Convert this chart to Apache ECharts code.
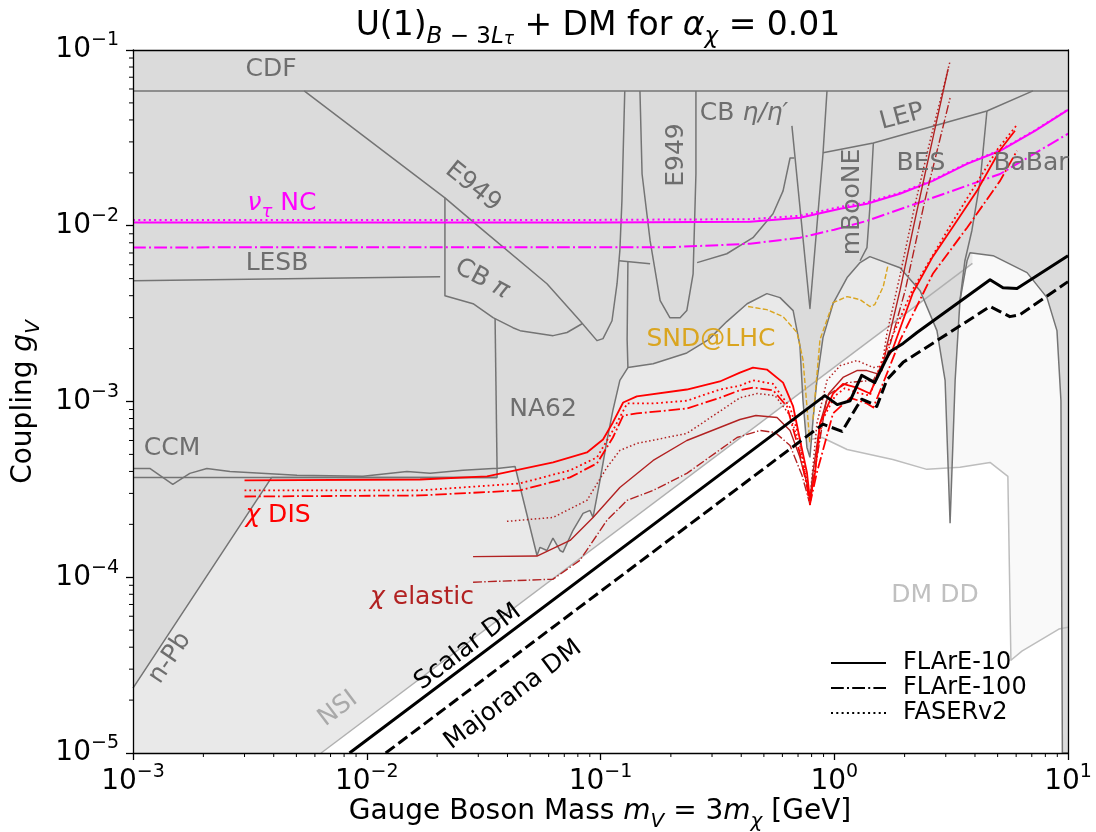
<!DOCTYPE html>
<html>
<head>
<meta charset="utf-8">
<script src="https://cdn.jsdelivr.net/npm/echarts/dist/echarts.min.js"></script>
<style>
html, body { margin: 0; padding: 0; background: #fff; }
#chart { width: 1096px; height: 832px; }
</style>
</head>
<body>
<div id="chart"></div>
<script>
// ---- values (GeV, coupling) ----
const xDecades = [-3, -2, -1, 0];
const yDecades = [-5, -4, -3, -2];
const minorMantissa = [2, 3, 4, 5, 6, 7, 8, 9];

// lower edge of the excluded (dark) region: n-Pb, CCM, NA62, then the resonance domes
const darkEdge = [
    [1e-3, 2.34e-5], [3.92e-3, 3.7e-4], [0.0361, 3.7e-4], [0.0361, 4.16e-4], [0.0431, 4.27e-4],
    [0.0535, 1.33e-4], [0.0551, 1.48e-4], [0.059, 1.42e-4], [0.0626, 1.67e-4], [0.0671, 1.42e-4],
    [0.0691, 1.39e-4], [0.0763, 1.85e-4], [0.0842, 2.31e-4], [0.0902, 2.4e-4], [0.0929, 2.19e-4],
    [0.0995, 3.56e-4], [0.1066, 6.0e-4], [0.113, 8.9e-4], [0.121, 1.32e-3], [0.131, 1.56e-3],
    [0.168, 1.64e-3], [0.234, 1.89e-3], [0.29, 2.25e-3], [0.347, 2.85e-3], [0.424, 3.6e-3],
    [0.515, 4.11e-3], [0.586, 3.9e-3], [0.667, 3.29e-3], [0.713, 2.08e-3], [0.735, 1.01e-3],
    [0.764, 5.48e-4], [0.787, 4.81e-4], [0.811, 7.8e-4], [0.843, 1.32e-3], [0.895, 2.31e-3],
    [0.988, 3.6e-3], [1.135, 5.07e-3], [1.29, 6.17e-3], [1.42, 6.67e-3], [1.91, 5.77e-3],
    [2.33, 4.27e-3], [2.75, 2.53e-3], [2.98, 1.32e-3], [3.13, 2.03e-4], [3.29, 1.32e-3],
    [3.45, 3.75e-3], [3.70, 6.32e-3], [3.81, 7.03e-3], [4.78, 6.76e-3], [6.68, 5.41e-3],
    [8.13, 3.9e-3], [8.97, 2.53e-3], [9.33, 1.01e-3], [9.46, 1e-5], [10, 1e-5]
];
const nsiLine = [[6.38e-3, 1e-5], [3.9, 6.11e-3]];
const ddLine = [
    [0.787, 6.08e-4], [0.887, 6.24e-4], [1.135, 5.33e-4], [1.78, 4.68e-4], [2.49, 4.11e-4],
    [3.45, 4.22e-4], [4.64, 4.5e-4], [5.53, 3.75e-4], [5.70, 3.37e-5], [6.35, 3.8e-5],
    [9.14, 5.07e-5], [10, 5.2e-5]
];

// boundaries drawn inside the excluded region
const cdfLine = [[1e-3, 0.0585], [10, 0.0585]];
const ccmFlat = [[1e-3, 3.7e-4], [0.0361, 3.7e-4]];
const e949Line = [
    [5.4e-3, 0.0585], [0.0216, 0.01442], [0.0305, 9.75e-3], [0.059, 4.68e-3], [0.0817, 2.88e-3],
    [0.0966, 2.22e-3], [0.1025, 2.28e-3], [0.112, 2.88e-3], [0.1177, 4.68e-3], [0.121, 7.21e-3],
    [0.1235, 0.01387], [0.127, 0.0585]
];
const lesbLine = [[1e-3, 4.87e-3], [0.0206, 5.13e-3]];
const cbPiLine = [
    [0.0216, 0.01442], [0.0216, 4.0e-3], [0.0285, 3.6e-3], [0.0347, 3.0e-3], [0.0422, 2.63e-3],
    [0.0453, 2.53e-3], [0.0627, 2.37e-3], [0.0719, 2.47e-3], [0.0834, 2.77e-3]
];
const na62Line = [[0.0354, 2.96e-3], [0.0361, 4.16e-4]];
const ccmLine = [
    [1e-3, 4.16e-4], [1.18e-3, 4.16e-4], [1.48e-3, 3.38e-4], [1.75e-3, 3.9e-4], [2.07e-3, 4.16e-4],
    [2.6e-3, 4.0e-4], [5.03e-3, 3.8e-4], [9.64e-3, 3.75e-4], [0.01486, 4.0e-4], [0.01866, 3.9e-4],
    [0.0258, 4.06e-4], [0.0347, 4.16e-4], [0.0361, 4.16e-4]
];
const kaonStep = [[0.120, 6.32e-3], [0.163, 6.08e-3]];
const kaonEdge = [[0.131, 6.24e-3], [0.130, 2.25e-3], [0.131, 1.56e-3]];
const e949U = [
    [0.1475, 0.0585], [0.1506, 0.0197], [0.163, 8.22e-3], [0.18, 3.75e-3], [0.198, 3.0e-3],
    [0.219, 3.0e-3], [0.234, 3.29e-3], [0.249, 5.33e-3], [0.256, 0.0197], [0.256, 0.0585]
];
const cbEtaLine = [
    [0.259, 6.17e-3], [0.347, 6.93e-3], [0.449, 8.55e-3], [0.547, 0.0117], [0.604, 0.0158],
    [0.647, 0.0243], [0.675, 0.0243]
];
const rhoSpike = [[0.659, 0.037], [0.787, 3.38e-3], [0.895, 0.0256], [0.931, 0.0585]];
const lepLine = [[0.895, 0.026], [1.47, 0.0296], [4.50, 0.045], [7.08, 0.0585]];
const mbooneLine = [[1.47, 0.0296], [1.42, 0.01265], [1.38, 7.5e-3], [1.29, 6.32e-3]];
const besLine = [[4.50, 0.045], [4.21, 0.018], [3.88, 9.4e-3], [3.62, 6.3e-3], [3.45, 3.75e-3]];

// SND@LHC projection
const sndLeft = [
    [0.428, 3.47e-3], [0.515, 3.33e-3], [0.604, 3.04e-3], [0.693, 2.47e-3], [0.735, 1.73e-3],
    [0.764, 9.4e-4], [0.787, 5.7e-4]
];
const sndRight = [
    [0.811, 7.9e-4], [0.869, 2.25e-3], [0.988, 3.65e-3], [1.135, 3.95e-3], [1.29, 3.8e-3],
    [1.42, 3.47e-3], [1.49, 3.56e-3], [1.62, 4.5e-3], [1.70, 6.0e-3]
];

// nu_tau NC
const nuSolid = [
    [1e-3, 0.01045], [0.1, 0.01045], [0.436, 0.01054], [0.713, 0.0111], [1.06, 0.0125],
    [1.38, 0.01334], [1.91, 0.0152], [2.64, 0.018], [3.70, 0.0225], [5.12, 0.0267],
    [7.22, 0.0347], [10, 0.0456]
];
const nuDotted = [
    [1e-3, 0.0108], [0.1, 0.0108], [0.436, 0.0109], [0.713, 0.0114], [1.06, 0.0128],
    [1.38, 0.0136], [1.91, 0.0154], [2.64, 0.0182], [3.70, 0.0227], [5.12, 0.0269],
    [7.22, 0.0349], [10, 0.0458]
];
const nuDashDot = [
    [1e-3, 7.53e-3], [0.2, 7.55e-3], [0.436, 7.9e-3], [0.713, 8.55e-3], [1.0, 9.5e-3],
    [1.38, 0.01066], [2.64, 0.01442], [5.12, 0.0197], [10, 0.0334]
];

// chi DIS
const disSolid = [
    [3.0e-3, 3.56e-4], [0.0169, 3.6e-4], [0.0327, 3.75e-4], [0.0627, 4.5e-4], [0.0875, 5.13e-4],
    [0.1025, 6.08e-4], [0.113, 7.6e-4], [0.125, 9.87e-4], [0.143, 1.07e-3], [0.234, 1.17e-3],
    [0.324, 1.3e-3], [0.395, 1.46e-3], [0.449, 1.56e-3], [0.515, 1.52e-3], [0.604, 1.28e-3],
    [0.667, 9.37e-4], [0.713, 6.08e-4], [0.764, 3.95e-4], [0.787, 2.77e-4], [0.828, 3.95e-4],
    [0.869, 7.5e-4], [0.988, 1.11e-3], [1.09, 1.26e-3], [1.25, 1.2e-3], [1.42, 1.11e-3],
    [1.62, 1.64e-3], [1.77, 1.95e-3], [2.17, 4.16e-3], [2.64, 6.67e-3], [3.22, 9.86e-3],
    [4.08, 0.0158], [5.12, 0.027], [5.93, 0.0347]
];
const disDotted = [
    [3.0e-3, 3.12e-4], [0.0169, 3.12e-4], [0.0452, 3.42e-4], [0.0741, 4.06e-4], [0.0966, 4.81e-4],
    [0.113, 6.84e-4], [0.13, 9.75e-4], [0.168, 9.75e-4], [0.234, 1.01e-3], [0.324, 1.17e-3],
    [0.395, 1.23e-3], [0.449, 1.32e-3], [0.547, 1.26e-3], [0.647, 9.25e-4], [0.713, 6.08e-4],
    [0.764, 3.29e-4], [0.787, 2.6e-4], [0.828, 4.11e-4], [0.887, 7.8e-4], [1.01, 1.08e-3],
    [1.11, 1.19e-3], [1.26, 1.12e-3], [1.42, 1.08e-3], [1.6, 1.71e-3], [2.15, 4.27e-3],
    [3.19, 0.0104], [5.01, 0.0274], [6.0, 0.037]
];
const disDashDot = [
    [3.0e-3, 2.88e-4], [0.0169, 2.92e-4], [0.0452, 3.12e-4], [0.0741, 3.7e-4], [0.0966, 4.45e-4],
    [0.113, 6.24e-4], [0.125, 8.32e-4], [0.143, 8.55e-4], [0.234, 9.12e-4], [0.324, 1.05e-3],
    [0.395, 1.16e-3], [0.449, 1.2e-3], [0.547, 1.16e-3], [0.628, 9.37e-4], [0.713, 5.07e-4],
    [0.764, 3.29e-4], [0.787, 2.6e-4], [0.843, 3.95e-4], [0.988, 8.55e-4], [1.17, 1.05e-3],
    [1.38, 9.75e-4], [1.47, 9.25e-4], [1.68, 1.44e-3], [1.91, 2.22e-3], [2.64, 5.33e-3],
    [3.70, 9.75e-3], [5.12, 0.018], [6.05, 0.0267]
];

// chi elastic
const elSolid = [
    [0.0285, 1.31e-4], [0.0535, 1.32e-4], [0.0741, 1.62e-4], [0.0929, 2.19e-4], [0.121, 3.24e-4],
    [0.168, 4.62e-4], [0.234, 6.0e-4], [0.395, 7.9e-4], [0.462, 8.32e-4], [0.569, 8.11e-4],
    [0.647, 6.84e-4], [0.713, 4.81e-4], [0.764, 3.42e-4], [0.787, 2.77e-4], [0.811, 3.95e-4],
    [0.869, 7.5e-4], [0.948, 1.11e-3], [1.09, 1.37e-3], [1.25, 1.5e-3], [1.38, 1.5e-3],
    [1.52, 1.44e-3], [1.6, 1.5e-3], [1.68, 2.08e-3], [1.91, 4.27e-3], [2.21, 0.01066],
    [2.57, 0.0267], [3.07, 0.078]
];
const elDashDot = [
    [0.0285, 9.37e-5], [0.0627, 9.75e-5], [0.0817, 1.25e-4], [0.1066, 2.11e-4], [0.13, 2.74e-4],
    [0.168, 3.12e-4], [0.234, 3.9e-4], [0.384, 6.24e-4], [0.481, 6.84e-4], [0.558, 6.67e-4],
    [0.647, 5.62e-4], [0.728, 3.8e-4], [0.787, 2.6e-4], [0.828, 4.11e-4], [0.931, 1.08e-3],
    [1.135, 1.28e-3], [1.47, 1.32e-3], [1.68, 1.82e-3], [2.01, 4.27e-3], [2.44, 0.01387],
    [3.13, 0.0533]
];
const elDotted = [
    [0.0398, 2.08e-4], [0.0627, 2.19e-4], [0.0875, 2.74e-4], [0.1066, 4.22e-4], [0.121, 5.27e-4],
    [0.143, 5.77e-4], [0.234, 6.58e-4], [0.395, 1.05e-3], [0.468, 1.11e-3], [0.558, 1.08e-3],
    [0.647, 8.32e-4], [0.713, 5.62e-4], [0.764, 3.56e-4], [0.787, 2.77e-4], [0.843, 7.5e-4],
    [0.931, 1.32e-3], [1.06, 1.6e-3], [1.25, 1.71e-3], [1.47, 1.56e-3], [1.6, 1.6e-3],
    [1.68, 2.43e-3], [1.91, 5.2e-3], [2.21, 0.013], [2.57, 0.0304], [3.13, 0.0865]
];

// relic targets
const scalarDM = [
    [8.44e-3, 1e-5], [0.912, 1.08e-3], [1.03, 9.6e-4], [1.17, 1.01e-3], [1.31, 1.41e-3],
    [1.49, 1.28e-3], [1.73, 1.92e-3], [1.97, 2.14e-3], [2.26, 2.47e-3], [4.64, 4.93e-3],
    [5.27, 4.44e-3], [6.05, 4.39e-3], [10, 6.76e-3]
];
const majoranaDM = [
    [0.01205, 1e-5], [0.895, 7.43e-4], [1.08, 6.76e-4], [1.25, 9.37e-4], [1.31, 1.03e-3],
    [1.45, 9.75e-4], [1.52, 9.37e-4], [1.68, 1.33e-3], [1.97, 1.67e-3], [4.64, 3.47e-3],
    [5.12, 3.25e-3], [5.64, 3.04e-3], [6.23, 3.12e-3], [10, 4.81e-3]
];

const legendNames = ['FLArE-10', 'FLArE-100', 'FASERv2'];

// ---- styles ----
const FONT = 'DejaVu Sans';
const EDGE = '#747474';
const LABEL_GREY = '#6e6e6e';
const DARK_FILL = '#dbdbdb';
const NSI_FILL = '#e9e9e9';
const DD_FILL = '#f9f9f9';
const RED = '#ff0000';
const BROWN = '#b22222';
const MAGENTA = '#ff00ff';
const GOLD = '#daa520';

const DOT = w => [w, 1.65 * w];
const DASHDOT = w => [6.4 * w, 1.6 * w, w, 1.6 * w];
const DASH = w => [3.7 * w, 1.6 * w];

const minorX = [];
xDecades.forEach(d => minorMantissa.forEach(m => minorX.push(m * Math.pow(10, d))));
const minorY = [];
yDecades.forEach(d => minorMantissa.forEach(m => minorY.push(m * Math.pow(10, d))));

function curve(data, color, width, type) {
    return {
        type: 'line', data: data, symbol: 'none', silent: true, animation: false,
        lineStyle: { color: color, width: width, type: type || 'solid', cap: 'butt', join: 'round' }
    };
}

// filled region above a boundary, up to the top of the plot
function regionAbove(data, fill, stroke) {
    return {
        type: 'line', data: data, symbol: 'none', silent: true, animation: false,
        lineStyle: { color: stroke || fill, width: stroke ? 1.5 : 0 },
        areaStyle: { color: fill, opacity: 1, origin: 'end' }
    };
}

function minorTicks(values, axis) {
    return {
        type: 'custom', silent: true, animation: false, clip: false, z: 11,
        data: values.map(v => (axis === 'x' ? [v, 1e-5] : [1e-3, v])),
        renderItem: function (params, api) {
            const p = api.coord([api.value(0), api.value(1)]);
            const shape = axis === 'x'
                ? { x1: p[0], y1: p[1], x2: p[0], y2: p[1] + 4 }
                : { x1: p[0] - 4, y1: p[1], x2: p[0], y2: p[1] };
            return { type: 'line', shape: shape, style: { stroke: '#000', lineWidth: 1 } };
        }
    };
}

function powLabel(v) {
    const e = Math.round(Math.log10(v));
    return '{b|10}{s|' + (e < 0 ? '\u2212' + (-e) : String(e)) + '}';
}
const tickRich = {
    b: { fontFamily: FONT, fontSize: 28, lineHeight: 38, color: '#000' },
    s: { fontFamily: FONT, fontSize: 19, lineHeight: 20, verticalAlign: 'top', color: '#000' }
};

function mainAxis(pos) {
    return {
        type: 'log', logBase: 10, position: pos, z: 10,
        axisLine: { show: true, onZero: false, lineStyle: { color: '#000', width: 1.3 } },
        axisTick: { show: true, length: 7, lineStyle: { color: '#000', width: 1.3 } },
        splitLine: { show: false },
        axisLabel: { formatter: powLabel, rich: tickRich, margin: pos === 'bottom' ? 10 : 14 }
    };
}
function frameAxis(pos) {
    return {
        type: 'log', logBase: 10, position: pos, z: 10,
        axisLine: { show: true, onZero: false, lineStyle: { color: '#000', width: 1.3 } },
        axisTick: { show: false }, axisLabel: { show: false }, splitLine: { show: false }
    };
}

function txt(text, x, y, color, size, rotDeg, rich) {
    return {
        type: 'text', x: x, y: y, rotation: (rotDeg || 0) * Math.PI / 180, z: 20, silent: true,
        style: {
            text: text, fill: color, fontFamily: FONT, fontSize: size,
            align: 'center', verticalAlign: 'middle', rich: rich
        }
    };
}
function richSet(size, color) {
    return {
        n: { fontFamily: FONT, fontSize: size, color: color, lineHeight: size + 12 },
        i: { fontFamily: FONT, fontSize: size, color: color, fontStyle: 'italic', lineHeight: size + 12 },
        s: { fontFamily: FONT, fontSize: Math.round(size * 0.7), color: color, fontStyle: 'italic',
            lineHeight: 14, verticalAlign: 'bottom' },
        sn: { fontFamily: FONT, fontSize: Math.round(size * 0.7), color: color,
            lineHeight: 14, verticalAlign: 'bottom' },
        ss: { fontFamily: FONT, fontSize: Math.round(size * 0.5), color: color, fontStyle: 'italic',
            lineHeight: 4, verticalAlign: 'bottom' }
    };
}

const LBL = 25;
const graphics = [
    // title and axis names
    txt('{n|U(1)}{s|B}{sn| \u2212 3}{s|L}{ss|\u03c4}{n| + DM for }{i|\u03b1}{s|\u03c7}{n| = 0.01}',
        598, 26, '#000', 33, 0, richSet(33, '#000')),
    txt('{n|Gauge Boson Mass }{i|m}{s|V}{n| = 3}{i|m}{s|\u03c7}{n| [GeV]}',
        600, 812, '#000', 28, 0, richSet(28, '#000')),
    txt('{n|Coupling }{i|g}{s|V}', 24, 402, '#000', 28, 90, richSet(28, '#000')),
    // region labels
    txt('CDF', 271, 69, LABEL_GREY, LBL),
    txt('E949', 473, 187, LABEL_GREY, LBL, -38.7),
    txt('LESB', 277, 263, LABEL_GREY, LBL),
    txt('{n|CB }{i|\u03c0}', 482, 279, LABEL_GREY, LBL, -28, richSet(LBL, LABEL_GREY)),
    txt('NA62', 543, 409, LABEL_GREY, LBL),
    txt('CCM', 172, 448, LABEL_GREY, LBL),
    txt('n-Pb', 170, 658, LABEL_GREY, LBL, 56),
    txt('NSI', 338, 709, '#a9a9a9', LBL, 37),
    txt('E949', 676, 155, LABEL_GREY, LBL, 90),
    txt('{n|CB }{i|\u03b7/\u03b7\u2032}', 744, 113, LABEL_GREY, LBL, 0, richSet(LBL, LABEL_GREY)),
    txt('LEP', 902, 117, LABEL_GREY, LBL, 15),
    txt('mBooNE', 852, 202, LABEL_GREY, LBL, 90),
    txt('BES', 921, 163, LABEL_GREY, LBL),
    txt('BaBar', 1031, 163, LABEL_GREY, LBL),
    txt('DM DD', 935, 595, '#c0c0c0', LBL),
    txt('SND@LHC', 711, 339, GOLD, LBL),
    txt('{i|\u03bd}{s|\u03c4}{n| NC}', 282, 203, MAGENTA, LBL, 0, richSet(LBL, MAGENTA)),
    txt('{i|\u03c7}{n| DIS}', 278, 515, RED, LBL, 0, richSet(LBL, RED)),
    txt('{i|\u03c7}{n| elastic}', 422, 597, BROWN, LBL, 0, richSet(LBL, BROWN)),
    txt('Scalar DM', 468, 647, '#000', LBL, 37),
    txt('Majorana DM', 513, 695, '#000', LBL, 37)
];
// legend (black handles)
const legendDash = [null, DASHDOT(2), DOT(2)];
legendNames.forEach((name, k) => {
    const y = 663 + k * 25;
    graphics.push({
        type: 'line', z: 20, silent: true,
        shape: { x1: 831, y1: y, x2: 886, y2: y },
        style: { stroke: '#000', lineWidth: 2, lineDash: legendDash[k] }
    });
    graphics.push({
        type: 'text', x: 903, y: y, z: 20, silent: true,
        style: { text: name, fill: '#000', fontFamily: FONT, fontSize: 24, align: 'left', verticalAlign: 'middle' }
    });
});

const series = [
    regionAbove(ddLine, DD_FILL),
    regionAbove([[1e-3, 1e-5]].concat(nsiLine), NSI_FILL),
    curve(ddLine, '#bdbdbd', 1.5),
    curve(nsiLine, '#b0b0b0', 1.5),
    regionAbove(darkEdge, DARK_FILL, EDGE),
    curve(cdfLine, EDGE, 1.5),
    curve(ccmFlat, EDGE, 1.5),
    curve(e949Line, EDGE, 1.5),
    curve(lesbLine, EDGE, 1.5),
    curve(cbPiLine, EDGE, 1.5),
    curve(na62Line, EDGE, 1.5),
    curve(ccmLine, EDGE, 1.5),
    curve(kaonStep, EDGE, 1.5),
    curve(kaonEdge, EDGE, 1.5),
    curve(e949U, EDGE, 1.5),
    curve(cbEtaLine, EDGE, 1.5),
    curve(rhoSpike, EDGE, 1.5),
    curve(lepLine, EDGE, 1.5),
    curve(mbooneLine, EDGE, 1.5),
    curve(besLine, EDGE, 1.5),
    curve(sndLeft, GOLD, 1.4, DASH(1.4)),
    curve(sndRight, GOLD, 1.4, DASH(1.4)),
    curve(nuDotted, MAGENTA, 2, DOT(2)),
    curve(nuSolid, MAGENTA, 2),
    curve(nuDashDot, MAGENTA, 2, DASHDOT(2)),
    curve(elSolid, BROWN, 1.4),
    curve(elDashDot, BROWN, 1.4, DASHDOT(1.4)),
    curve(elDotted, BROWN, 1.5, DOT(1.5)),
    curve(disSolid, RED, 1.8),
    curve(disDotted, RED, 1.8, DOT(1.8)),
    curve(disDashDot, RED, 1.8, DASHDOT(1.8)),
    curve(scalarDM, '#000', 3),
    curve(majoranaDM, '#000', 3, DASH(3)),
    minorTicks(minorX, 'x'),
    minorTicks(minorY, 'y')
];

const chart = echarts.init(document.getElementById('chart'), null, { renderer: 'canvas' });
chart.setOption({
    animation: false,
    backgroundColor: '#fff',
    textStyle: { fontFamily: FONT },
    grid: { left: 133, right: 28, top: 50, bottom: 79, containLabel: false, outerBoundsMode: 'none' },
    xAxis: [
        Object.assign(mainAxis('bottom'), { min: 1e-3, max: 10 }),
        Object.assign(frameAxis('top'), { min: 1e-3, max: 10 })
    ],
    yAxis: [
        Object.assign(mainAxis('left'), { min: 1e-5, max: 1e-1 }),
        Object.assign(frameAxis('right'), { min: 1e-5, max: 1e-1 })
    ],
    series: series,
    graphic: graphics
});
</script>
</body>
</html>
